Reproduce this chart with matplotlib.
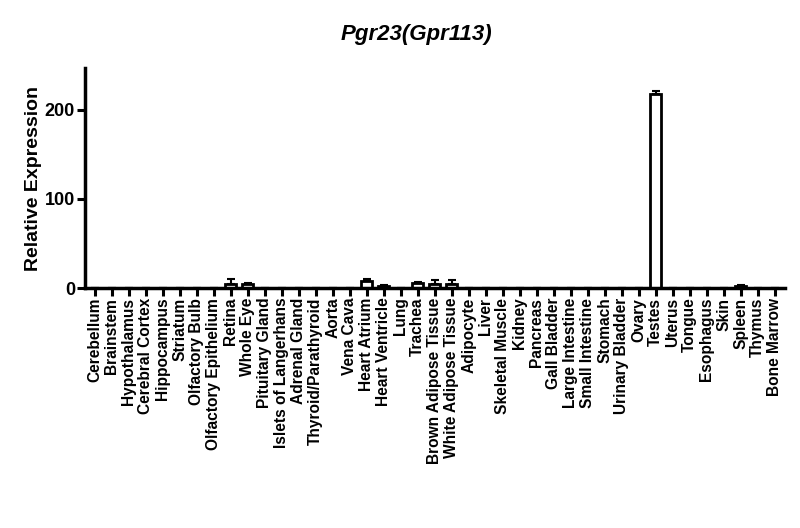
import matplotlib
matplotlib.use("Agg")
import matplotlib.pyplot as plt
import numpy as np

tissues = ["Cerebellum", "Brainstem", "Hypothalamus", "Cerebral Cortex", "Hippocampus",
           "Striatum", "Olfactory Bulb", "Olfactory Epithelium", "Retina", "Whole Eye",
           "Pituitary Gland", "Islets of Langerhans", "Adrenal Gland", "Thyroid/Parathyroid",
           "Aorta", "Vena Cava", "Heart Atrium", "Heart Ventricle", "Lung", "Trachea",
           "Brown Adipose Tissue", "White Adipose Tissue", "Adipocyte", "Liver",
           "Skeletal Muscle", "Kidney", "Pancreas", "Gall Bladder", "Large Intestine",
           "Small Intestine", "Stomach", "Urinary Bladder", "Ovary", "Testes", "Uterus",
           "Tongue", "Esophagus", "Skin", "Spleen", "Thymus", "Bone Marrow"]
values = [0.3, 0.3, 0.3, 0.3, 0.3, 0.3, 0.3, 0.3, 5.0, 5.0,
          0.3, 0.5, 0.3, 0.3, 0.3, 0.3, 8.0, 2.5, 0.3, 6.0,
          5.0, 5.0, 0.3, 0.3, 0.3, 0.3, 0.3, 0.3, 0.3,
          0.3, 0.3, 0.3, 0.3, 218.0, 0.3, 0.3, 0.3, 0.3, 2.5, 0.3, 0.3]
errors = [0, 0, 0, 0, 0, 0, 0, 0, 5.0, 1.0,
          0, 0, 0, 0, 0, 0, 2.0, 0.5, 0, 1.0,
          4.5, 4.5, 0, 0, 0, 0, 0, 0, 0,
          0, 0, 0, 0, 3.0, 0, 0, 0, 0, 0.5, 0, 0]
yticks = [0, 100, 200]

plt.rcParams['font.family'] = ['Liberation Sans', 'DejaVu Sans']
plt.rcParams['font.weight'] = 'bold'

fig = plt.figure(figsize=(8, 5.28), dpi=100)
ax = fig.add_axes([0.106, 0.4545, 0.875, 0.4165])

x = np.arange(len(tissues))
ax.bar(x, values, width=0.65, color='white', edgecolor='black', linewidth=2.0, zorder=2)
ax.errorbar(x, values, yerr=[np.zeros(len(errors)), errors], fmt='none', ecolor='black',
            elinewidth=1.5, capsize=3, capthick=1.5, zorder=3)

ax.set_xlim(-0.6, len(tissues) - 0.4)
ax.set_ylim(0, 247)
ax.set_yticks(yticks)
ax.set_xticks(x)
ax.set_xticklabels(tissues, rotation=90, fontsize=11.2, fontweight='bold')
for lab in ax.get_yticklabels():
    lab.set_fontsize(13)
    lab.set_fontweight('bold')

for s in ['top', 'right']:
    ax.spines[s].set_visible(False)
for s in ['left', 'bottom']:
    ax.spines[s].set_linewidth(2.5)
ax.tick_params(axis='both', direction='out', length=6, width=2.2, pad=1)

ax.set_ylabel('Relative Expression', fontsize=14, fontweight='bold', labelpad=2)
fig.text(0.52, 0.935, 'Pgr23(Gpr113)', ha='center', va='center', fontsize=16,
         fontweight='bold', style='italic')

fig.savefig('out.png', dpi=100)
